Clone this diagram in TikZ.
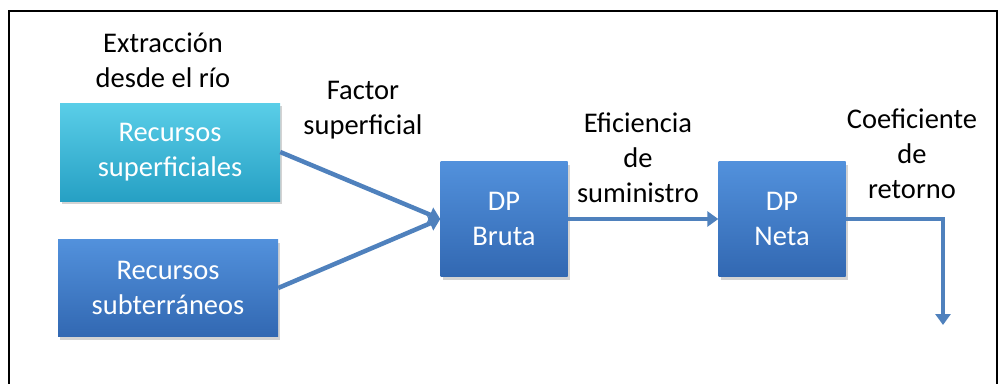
\documentclass[tikz,border=0pt]{standalone}
\usepackage{fontspec}
\setmainfont{Carlito}
\usetikzlibrary{arrows.meta,shadows}
\definecolor{surftop}{RGB}{90,206,232}
\definecolor{surfbot}{RGB}{38,160,196}
\definecolor{dptop}{RGB}{82,145,220}
\definecolor{dpbot}{RGB}{50,104,178}
\definecolor{flowblue}{RGB}{79,129,189}

\begin{document}
\begin{tikzpicture}[x=1pt,y=-1pt,
  txt/.style={font=\fontsize{28.5}{35}\selectfont, align=center},
  box/.style={txt, text=white, inner sep=0pt,
    drop shadow={opacity=0.35, shadow xshift=2pt, shadow yshift=-3pt}},
  surfbox/.style={box, top color=surftop, bottom color=surfbot},
  dpbox/.style={box, top color=dptop, bottom color=dpbot},
  flow/.style={draw=flowblue, line width=4.5pt, -{Triangle[width=15pt,length=11pt]}}
]
\useasboundingbox (0,0) rectangle (998,383);
% Frame
\draw[line width=2pt] (9,11) rectangle (997,400);
% Sources
\node[surfbox, minimum width=220pt, minimum height=98pt] (sup) at (170,152) {Recursos\\superficiales};
\node[dpbox, minimum width=220pt, minimum height=97pt] (sub) at (168,288) {Recursos\\subterráneos};
% Demand
\node[dpbox, minimum width=127pt, minimum height=115pt] (bruta) at (504,219) {DP\\Bruta};
\node[dpbox, minimum width=127pt, minimum height=115pt] (neta) at (782,219) {DP\\Neta};
\coordinate (out) at (943,325);
% Labels
\node[txt] (extr) at (163,60) {Extracción\\desde el río};
\node[txt] (fact) at (363,110) {Factor\\superficial};
\node[txt] (efic) at (638,158) {Eficiencia\\de\\suministro};
\node[txt] (coef) at (912,154) {Coeficiente\\de\\retorno};
% Flows
\draw[flow] (sup.east) -- (bruta.west);
\draw[flow] (sub.east) -- (bruta.west);
\draw[flow] (bruta.east) -- (neta.west);
\draw[flow] (neta.east) -| (out);
\end{tikzpicture}
\end{document}
